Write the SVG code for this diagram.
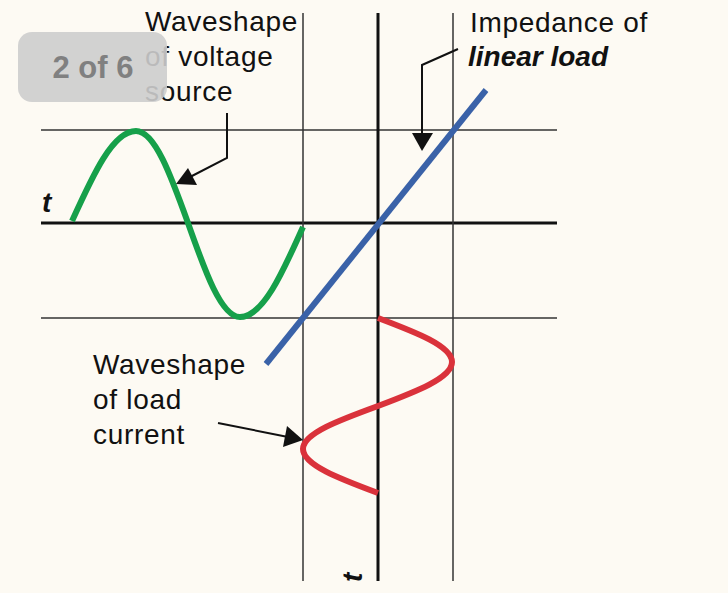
<svg xmlns="http://www.w3.org/2000/svg" width="728" height="593" viewBox="0 0 728 593">
<style>
.bg{fill:#fdfaf3}
.thin{stroke:#333;stroke-width:1.5;fill:none}
.thick{stroke:#111;stroke-width:3;fill:none}
.wave{fill:none;stroke-width:6;stroke-linecap:butt}
.lbl{font-family:"Liberation Sans",Arial,Helvetica,sans-serif;font-size:28px;letter-spacing:0.7px;fill:#111}
.bi{font-family:"Liberation Sans",Arial,Helvetica,sans-serif;font-size:28px;font-weight:bold;font-style:italic;fill:#111}
.call{stroke:#111;stroke-width:2;fill:none}
.head{fill:#111}
</style>
<rect class="bg" x="0" y="0" width="728" height="593"/>
<g id="grid">
<line class="thin" x1="41" y1="130" x2="557" y2="130"/>
<line class="thin" x1="41" y1="318" x2="557" y2="318"/>
<line class="thick" x1="41" y1="223" x2="557" y2="223"/>
<line class="thin" x1="303" y1="13" x2="303" y2="581"/>
<line class="thin" x1="453" y1="13" x2="453" y2="581"/>
<line class="thick" x1="378" y1="13" x2="378" y2="581"/>
</g>
<g id="voltage-wave">
<path class="wave" stroke="#16a04a" d="M72,221 C92.9,175 112.8,131 136,131 C154.8,131 171.1,176 188,223 C204.9,271 221.2,317 240,317 C262.8,317 282.5,273 303,227"/>
</g>
<g id="load-impedance">
<line class="wave" stroke="#3a62a8" x1="266" y1="364" x2="486" y2="90"/>
</g>
<g id="current-wave">
<path class="wave" stroke="#da323b" d="M378,318 C415.9,332.3 452,346.1 452,362 C452,377.9 415.9,391.7 378,406 C339.6,420 303,433.4 303,449 C303,464.9 339.6,478.7 378,493"/>
</g>
<g id="connectors">
<polyline class="call" points="227,113 227,158 190,177"/>
<polygon class="head" points="176,184 188,168 197,185"/>
<polyline class="call" points="458,49 422,65 422,134"/>
<polygon class="head" points="412,133 433,133 422,151"/>
<line class="call" x1="218" y1="423" x2="288" y2="437"/>
<polygon class="head" points="287,426 283,447 303,440"/>
</g>
<g id="label-voltage">
<text class="lbl" x="145" y="31">Waveshape</text>
<text class="lbl" x="145" y="66">of voltage</text>
<text class="lbl" x="145" y="101">source</text>
</g>
<g id="label-impedance">
<text class="lbl" x="470" y="32">Impedance of</text>
<text class="bi" x="468" y="66">linear load</text>
</g>
<g id="label-current">
<text class="lbl" x="93" y="374">Waveshape</text>
<text class="lbl" x="93" y="409">of load</text>
<text class="lbl" x="93" y="444">current</text>
</g>
<g id="axis-labels">
<text class="bi" x="42" y="212">t</text>
<text class="bi" transform="translate(362,582) rotate(-90)" x="0" y="0">t</text>
</g>
<g id="badge">
<rect x="18" y="32" width="149" height="70" rx="14" fill="#cdcdcd" fill-opacity="0.9"/>
<text x="93" y="78" text-anchor="middle" font-family="'Liberation Sans',Arial,sans-serif" font-size="31" font-weight="bold" fill="#808080">2 of 6</text>
</g>
</svg>
